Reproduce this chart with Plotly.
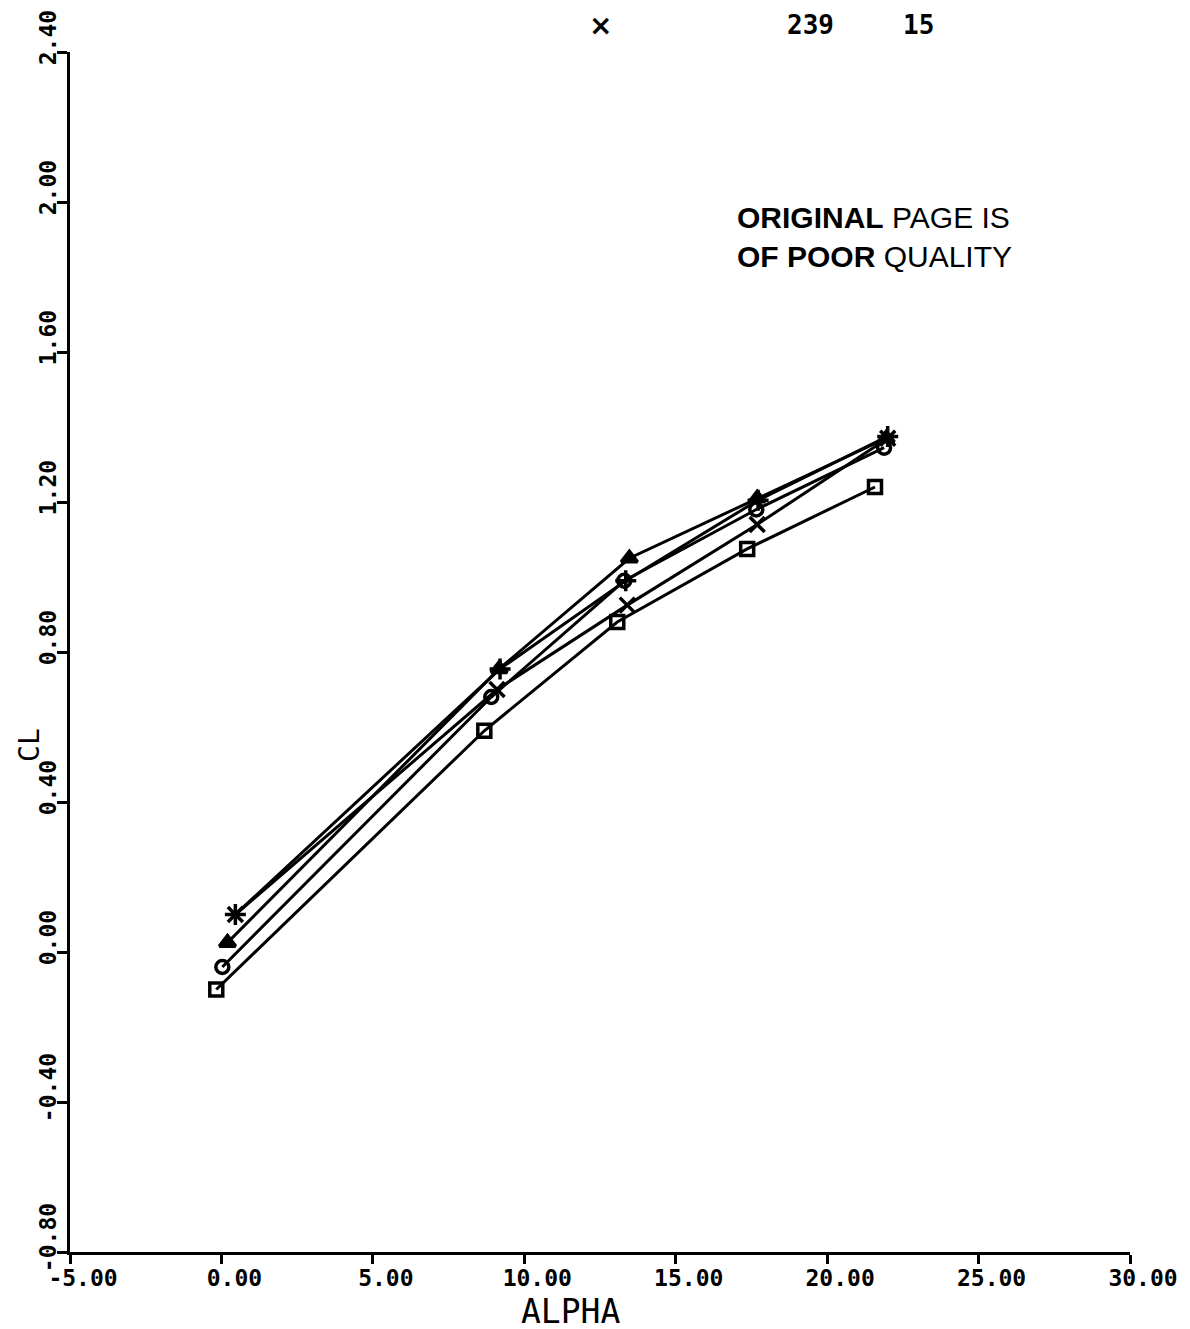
import plotly.graph_objects as go

# ---- data ----
alpha_square = [-0.17, 8.68, 13.07, 17.36, 21.58]
cl_square = [-0.10, 0.59, 0.88, 1.075, 1.24]

alpha_circle = [0.03, 8.91, 13.30, 17.66, 21.88]
cl_circle = [-0.04, 0.68, 0.99, 1.18, 1.345]

alpha_triangle = [0.20, 9.17, 13.47, 17.69, 21.95]
cl_triangle = [0.025, 0.755, 1.05, 1.21, 1.37]

alpha_plus = [0.46, 9.20, 13.35, 17.72, 22.00]
cl_plus = [0.10, 0.755, 0.99, 1.205, 1.375]

alpha_x = [0.46, 9.10, 13.40, 17.69, 22.00]
cl_x = [0.10, 0.70, 0.925, 1.14, 1.37]

x_tick_vals = [-5, 0, 5, 10, 15, 20, 25, 30]
x_tick_text = ["-5.00", "0.00", "5.00", "10.00", "15.00", "20.00", "25.00", "30.00"]
y_tick_vals = [-0.8, -0.4, 0.0, 0.4, 0.8, 1.2, 1.6, 2.0, 2.4]
y_tick_text = ["-0.80", "-0.40", "0.00", "0.40", "0.80", "1.20", "1.60", "2.00", "2.40"]

header_symbol = "×"
header_run = "239"
header_num = "15"

series = [
    (alpha_square, cl_square, "square-open", 13),
    (alpha_circle, cl_circle, "circle-open", 13),
    (alpha_triangle, cl_triangle, "triangle-up", 14),
    (alpha_plus, cl_plus, "cross-thin-open", 15),
    (alpha_x, cl_x, "x-thin-open", 15),
]

fig = go.Figure()
for xs, ys, sym, size in series:
    fig.add_trace(go.Scatter(
        x=xs, y=ys, mode="lines+markers",
        line=dict(color="black", width=3),
        marker=dict(symbol=sym, size=size, color="black",
                    line=dict(color="black", width=3.5)),
        showlegend=False,
    ))

tick_font = dict(family="DejaVu Sans Mono", size=23, color="black", weight="bold")

fig.update_layout(
    width=1190, height=1329,
    margin=dict(l=62, r=68, t=44, b=85),
    paper_bgcolor="white", plot_bgcolor="white",
    xaxis=dict(
        range=[-5, 30], tickvals=x_tick_vals, ticktext=x_tick_text,
        showgrid=False, zeroline=False, showline=True, automargin=False,
        linecolor="black", linewidth=3,
        ticks="outside", ticklen=9, tickwidth=2.5, tickcolor="black",
        tickfont=tick_font, ticklabelshift=13, ticklabelstandoff=-6,
    ),
    yaxis=dict(
        range=[-0.8, 2.4], tickvals=y_tick_vals, ticktext=y_tick_text,
        showgrid=False, zeroline=False, showline=True, automargin=False,
        linecolor="black", linewidth=3,
        ticks="outside", ticklen=10, tickwidth=2.5, tickcolor="black",
        tickfont=tick_font, tickangle=-90, ticklabelshift=-11, ticklabelstandoff=-8,
    ),
)

title_font = dict(family="DejaVu Sans Mono", size=33, color="black")
header_font = dict(family="DejaVu Sans Mono", size=26, color="black", weight="bold")
annotations = [
    dict(text="ALPHA", x=0.4726, y=-0.0495, xref="paper", yref="paper",
         showarrow=False, font=title_font, xanchor="center", yanchor="middle"),
    dict(text="CL", x=-0.0387, y=0.4225, xref="paper", yref="paper",
         showarrow=False, font=dict(family="DejaVu Sans Mono", size=28, color="black"),
         textangle=-90, xanchor="center", yanchor="middle"),
    dict(text=header_symbol, x=0.5, y=1.0225, xref="paper", yref="paper",
         showarrow=False, borderpad=0,
         font=dict(family="DejaVu Sans", size=28, color="black", weight="bold"),
         xanchor="center", yanchor="middle"),
    dict(text=header_run, x=0.699, y=1.0225, xref="paper", yref="paper",
         showarrow=False, borderpad=0, font=header_font,
         xanchor="center", yanchor="middle"),
    dict(text=header_num, x=0.80, y=1.0225, xref="paper", yref="paper",
         showarrow=False, borderpad=0, font=header_font,
         xanchor="center", yanchor="middle"),
    dict(text="<b>ORIGINAL</b> PAGE IS<br><b>OF POOR</b> QUALITY",
         x=0.627, y=0.8775, xref="paper", yref="paper", showarrow=False,
         align="left", xanchor="left", yanchor="top",
         font=dict(family="Liberation Sans", size=30, color="black")),
]
fig.update_layout(annotations=annotations)

fig.write_html("out.html")
